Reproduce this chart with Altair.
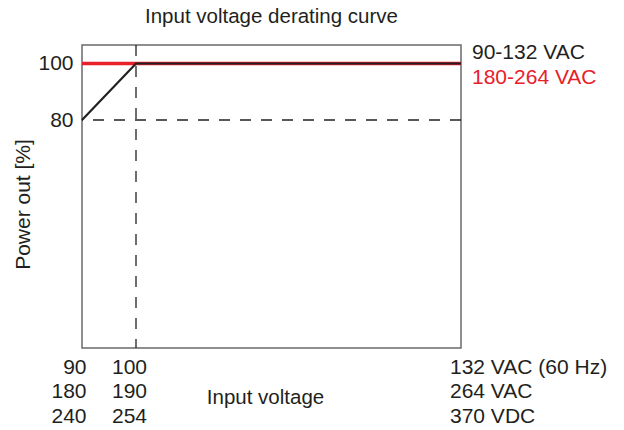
import altair as alt
import pandas as pd

# ---- data ----
x_low_line = [90, 100, 132]        # 90-132 VAC derating curve (black)
y_low_line = [80, 100, 100]
x_high_line = [90, 132]            # 180-264 VAC curve (red)
y_high_line = [100, 100]
knee_voltage = 100                 # vertical dashed reference
knee_power = 80                    # horizontal dashed reference

tick_values = [90, 100, 132]
row_vac_low = ["90", "100", "132"]
row_vac_high = ["180", "190", "264"]
row_vdc = ["240", "254", "370"]
row_units = ["VAC (60 Hz)", "VAC", "VDC"]

series_names = ["90-132 VAC", "180-264 VAC"]
series_colors = ["#231f20", "#e8202a"]

y_ticks = [80, 100]

FONT = "Liberation Sans"
TXT = "#231f20"
FS = 21
FT = 20.5

# ---- build tables ----
df_low = pd.DataFrame({"v": x_low_line, "p": y_low_line})
df_high = pd.DataFrame({"v": x_high_line, "p": y_high_line})

# multi-line x tick labels built from the rows
parts = []
for i, v in enumerate(tick_values):
    lines = [row_vac_low[i], row_vac_high[i], row_vdc[i]]
    if i == len(tick_values) - 1:
        lines = [f"{a} {u}" for a, u in zip(lines, row_units)]
    arr = "[" + ",".join("'" + s + "'" for s in lines) + "]"
    parts.append((v, arr))
label_expr = ""
for v, arr in parts[:-1]:
    label_expr += f"datum.value == {v} ? {arr} : "
label_expr += parts[-1][1]

xscale = alt.Scale(domain=tick_values, range=[0, 54, 379], nice=False, zero=False)
yscale = alt.Scale(domain=[-0.7, 106.55], nice=False, zero=False)

x_axis = alt.Axis(
    values=tick_values, labelExpr=label_expr, grid=False, ticks=False, domain=False,
    labelFont=FONT, labelFontSize=FS, labelColor=TXT, labelLineHeight=24.5,
    labelBaseline="alphabetic", labelPadding=25, labelOverlap=False, labelFlush=False,
    labelBound=False,
    labelAlign={"condition": {"test": f"datum.value == {tick_values[-1]}", "value": "left"}, "value": "right"},
    labelOffset={"condition": [
        {"test": f"datum.value == {tick_values[0]}", "value": 4},
        {"test": f"datum.value == {tick_values[1]}", "value": 10.5}], "value": -11.5},
    title="Input voltage", titleFont=FONT, titleFontSize=FT, titleFontWeight="normal",
    titleColor=TXT, titleX=183, titleY=55, titleBaseline="alphabetic", titleAlign="center",
)
y_axis = alt.Axis(
    values=y_ticks, grid=False, ticks=False, domain=False,
    labelFont=FONT, labelFontSize=FS, labelColor=TXT, labelPadding=9,
    title="Power out [%]", titleFont=FONT, titleFontSize=FS, titleFontWeight="normal",
    titleColor=TXT, titleX=-53, titleY=159, titleBaseline="alphabetic", titleAlign="center",
    titleAngle=270,
)

base_x = alt.X("v:Q", scale=xscale, axis=x_axis)
base_y = alt.Y("p:Q", scale=yscale, axis=y_axis)

red = alt.Chart(df_high).mark_line(color=series_colors[1], strokeWidth=3.5).encode(x=base_x, y=base_y)
black = alt.Chart(df_low).mark_line(color=series_colors[0], strokeWidth=2.2).encode(x="v:Q", y="p:Q")

hrule = alt.Chart(pd.DataFrame({"p": [knee_power]})).mark_rule(
    color="#222222", strokeWidth=1.3, strokeDash=[11, 10]).encode(y="p:Q")
vrule = alt.Chart(pd.DataFrame({"v": [knee_voltage]})).mark_rule(
    color="#222222", strokeWidth=1.3, strokeDash=[11, 10]).encode(x="v:Q")

label_layers = []
for name, col, dy in zip(series_names, series_colors, [-4.2, 20.8]):
    label_layers.append(
        alt.Chart(pd.DataFrame({"v": [x_low_line[-1]], "p": [y_low_line[-1]], "t": [name]}))
        .mark_text(align="left", baseline="alphabetic", dx=11, dy=dy, font=FONT,
                   fontSize=FS, color=col)
        .encode(x="v:Q", y="p:Q", text="t:N")
    )

chart = alt.layer(hrule, vrule, red, black, *label_layers).properties(
    width=379, height=303,
    title=alt.TitleParams("Input voltage derating curve", font=FONT, fontSize=FT,
                          fontWeight="normal", color=TXT, anchor="middle", offset=15),
    autosize=alt.AutoSizeParams(type="none"),
    padding={"left": 74, "top": 37, "right": 155, "bottom": 80},
).configure(background="white").configure_view(stroke="#6a6a6a", strokeWidth=1.5)

chart.save("out.html", embed_options={"renderer": "svg", "actions": False})
